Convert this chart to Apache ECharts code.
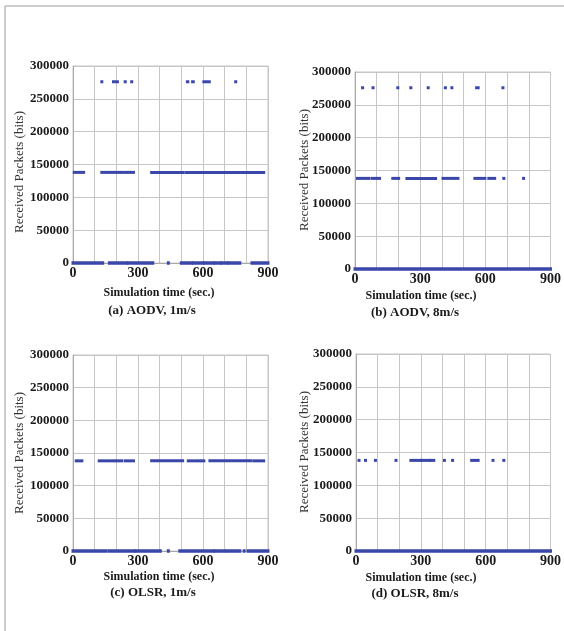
<!DOCTYPE html>
<html>
<head>
<meta charset="utf-8">
<script src="https://cdn.jsdelivr.net/npm/echarts@6/dist/echarts.min.js"></script>
<style>
html,body{margin:0;padding:0;background:#fff;}
#chart{width:564px;height:631px;}
</style>
</head>
<body>
<div id="chart"></div>
<script>
// Levels of received packets (bits)
const LEVELS = [0, 138000, 276000];
const X_TICKS = [0, 300, 600, 900];
const Y_TICKS = [0, 50000, 100000, 150000, 200000, 250000, 300000];
const PANEL_TITLES = ['(a) AODV, 1m/s', '(b) AODV, 8m/s', '(c) OLSR, 1m/s', '(d) OLSR, 8m/s'];

// Runs of points [start sec, end sec] at each level
// (a) AODV 1m/s
const aodv1_L0 = [[0,137],[168,248],[256,368],[440,440],[500,548],[556,600],[606,648],[656,680],[688,712],[720,770],[826,900]];
const aodv1_L1 = [[6,49],[133,225],[238,279],[363,509],[524,880]];
const aodv1_L2 = [[133,133],[187,190],[202,205],[241,241],[271,271],[528,530],[552,555],[604,629],[751,751]];
// (b) AODV 8m/s
const aodv8_L0 = [[0,900]];
const aodv8_L1 = [[11,65],[80,113],[174,201],[239,371],[405,431],[443,474],[552,598],[616,643],[685,685],[776,776]];
const aodv8_L2 = [[35,35],[83,83],[197,197],[257,257],[337,337],[416,416],[446,446],[560,567],[681,681]];
// (c) OLSR 1m/s
const olsr1_L0 = [[0,150],[165,282],[290,403],[440,440],[493,648],[656,700],[710,770],[790,790],[808,900]];
const olsr1_L1 = [[15,41],[121,184],[195,225],[241,279],[363,506],[532,571],[583,583],[594,604],[632,819],[834,880]];
const olsr1_L2 = [];
// (d) OLSR 8m/s
const olsr8_L0 = [[0,900]];
const olsr8_L1 = [[14,14],[44,44],[90,90],[185,185],[254,300],[305,340],[345,360],[409,409],[447,447],[535,565],[634,634],[684,684]];
const olsr8_L2 = [];

const panels = [
  [aodv1_L0, aodv1_L1, aodv1_L2],
  [aodv8_L0, aodv8_L1, aodv8_L2],
  [olsr1_L0, olsr1_L1, olsr1_L2],
  [olsr8_L0, olsr8_L1, olsr8_L2]
];

const DOT = '#3a46a8';
const GRIDC = '#c6c6c6';
const FONT = '"Liberation Serif", "DejaVu Serif", serif';

const grids = [
  {left:73, top:66, width:195, height:197},
  {left:355, top:72, width:198, height:197},
  {left:73, top:355, width:195, height:196},
  {left:356, top:354, width:197, height:197}
];
const xNameY = [293, 296, 577, 578];
const captionY = [311, 313, 593, 594];
const textX = [[159,152],[421,415],[159,153],[421,415]];
const yNamePos = [[20,172],[305,170],[20,453],[305,452]];

const xAxes = [], yAxes = [], series = [], graphics = [];
grids.forEach((g, i) => {
  g.show = true; g.borderColor = GRIDC; g.borderWidth = 1; g.containLabel = false;
  xAxes.push({
    type:'value', gridIndex:i, min:X_TICKS[0], max:X_TICKS[X_TICKS.length-1], interval:100,
    axisLine:{show:true, lineStyle:{color:'#aaaaaa', width:1}},
    axisTick:{show:false},
    splitLine:{show:true, lineStyle:{color:GRIDC, width:1}},
    axisLabel:{margin:3, color:'#1a1a1a', fontFamily:FONT, fontWeight:'bold', fontSize:14,
      formatter: v => X_TICKS.indexOf(v) >= 0 ? String(v) : ''}
  });
  yAxes.push({
    type:'value', gridIndex:i, min:Y_TICKS[0], max:Y_TICKS[Y_TICKS.length-1], interval:50000,
    axisLine:{show:true, lineStyle:{color:'#aaaaaa', width:1}},
    axisTick:{show:false},
    splitLine:{show:true, lineStyle:{color:GRIDC, width:1}},
    axisLabel:{margin:4, color:'#1a1a1a', fontFamily:FONT, fontWeight:'bold', fontSize:13,
      formatter: v => Y_TICKS.indexOf(v) >= 0 ? String(v) : ''}
  });
  const data = [];
  panels[i].forEach((runs, li) => {
    runs.forEach(r => data.push([r[0], r[1], LEVELS[li]]));
  });
  series.push({
    type:'custom', xAxisIndex:i, yAxisIndex:i, clip:false, z:5,
    encode:{x:[0,1], y:2},
    data:data,
    renderItem: (params, api) => {
      const p1 = api.coord([api.value(0), api.value(2)]);
      const p2 = api.coord([api.value(1), api.value(2)]);
      const h = api.value(2) === 0 ? 3.5 : 3;
      return {type:'rect',
        shape:{x:p1[0]-1.5, y:p1[1]-h/2, width:Math.max(p2[0]-p1[0]+3, 3), height:h},
        style:{fill:DOT}};
    }
  });
  graphics.push({type:'text', x:textX[i][0], y:xNameY[i],
    style:{text:'Simulation time (sec.)', font:'bold 12px ' + FONT, fill:'#1a1a1a', align:'center', verticalAlign:'middle'}});
  graphics.push({type:'text', x:textX[i][1], y:captionY[i],
    style:{text:PANEL_TITLES[i], font:'bold 13px ' + FONT, fill:'#1a1a1a', align:'center', verticalAlign:'middle'}});
  graphics.push({type:'text', x:yNamePos[i][0], y:yNamePos[i][1], rotation:Math.PI/2,
    style:{text:'Received Packets (bits)', font:'13px ' + FONT, fill:'#333', align:'center', verticalAlign:'middle'}});
});
// outer frame (top and left edges visible)
graphics.push({type:'line', shape:{x1:5, y1:6, x2:564, y2:6}, style:{stroke:'#bdbdbd', lineWidth:1.5}});
graphics.push({type:'line', shape:{x1:5, y1:6, x2:5, y2:631}, style:{stroke:'#bdbdbd', lineWidth:1.5}});

const chart = echarts.init(document.getElementById('chart'), null, {renderer:'canvas'});
chart.setOption({
  backgroundColor:'#ffffff',
  animation:false,
  grid:grids, xAxis:xAxes, yAxis:yAxes, series:series, graphic:graphics
});
</script>
</body>
</html>
